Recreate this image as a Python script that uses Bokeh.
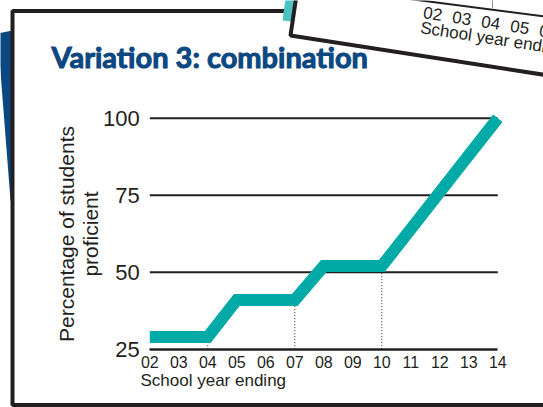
import math
from bokeh.plotting import figure
from bokeh.models import FixedTicker, Label, PolyAnnotation, Range1d
from bokeh.embed import file_html
from bokeh.resources import INLINE

# ---------------- data ----------------
years = [2, 3, 4, 5, 6, 7, 8, 9, 10, 11, 12, 13, 14]
year_labels = ["02", "03", "04", "05", "06", "07", "08", "09", "10", "11", "12", "13", "14"]
proficient = [29, 29, 29, 41, 41, 41, 52, 52, 52, 64, 76, 88, 100]
y_ticks = [25, 50, 75, 100]
step_ends = [4, 7, 10]
title_text = "Variation 3: combination"
x_title = "School year ending"
y_title = "Percentage of students\nproficient"
card_labels = ["02", "03", "04", "05", "06"]

# ---------------- layout ----------------
W, H = 543, 407
PX_X, PX_Y = 29.0, 3.08          # pixels per data unit
ORG_X, ORG_Y = 149.3, 348.7      # pixel position of (2, 25)
X0 = years[0] - ORG_X / PX_X
X1 = X0 + W / PX_X
Y1 = y_ticks[0] + ORG_Y / PX_Y
Y0 = Y1 - H / PX_Y

INK = "#231f20"
TEAL = "#00aaa6"
BLUE = "#0b4780"
FONT = "Liberation Sans"


def dx(px):
    return X0 + px / PX_X


def dy(py):
    return Y1 - py / PX_Y


p = figure(width=W, height=H, x_range=Range1d(X0, X1), y_range=Range1d(Y0, Y1),
           output_backend="svg", toolbar_location=None,
           min_border=0, min_border_left=0, min_border_right=0, min_border_top=0, min_border_bottom=0)
p.outline_line_color = None
p.background_fill_color = "white"
p.border_fill_color = "white"
p.xgrid.visible = False
p.ygrid.visible = False

# ---------------- decorations ----------------
p.add_layout(PolyAnnotation(xs=[dx(-3), dx(12), dx(12), dx(10)], ys=[dy(33), dy(30), dy(200), dy(200)],
                            fill_color=BLUE, fill_alpha=1, line_color=None))
p.add_layout(PolyAnnotation(xs=[dx(12), dx(620), dx(620), dx(12)], ys=[dy(10.5), dy(10.5), dy(404.5), dy(404.5)],
                            fill_alpha=0, line_color=INK, line_width=4, line_alpha=1))
p.add_layout(PolyAnnotation(xs=[dx(285), dx(295), dx(292), dx(282)], ys=[dy(-2), dy(-2), dy(21), dy(20)],
                            fill_color="#4cc3c0", fill_alpha=1, line_color=None))
slope = 0.155
p.add_layout(PolyAnnotation(xs=[dx(290), dx(297), dx(640), dx(640)],
                            ys=[dy(35), dy(-12), dy(-12), dy(35 + slope * 350)],
                            fill_color="white", fill_alpha=1, line_color=INK, line_width=4, line_alpha=1))
p.add_layout(PolyAnnotation(xs=[dx(405), dx(560)], ys=[dy(-2), dy(18)],
                            fill_alpha=0, line_color=INK, line_width=2, line_alpha=1))
p.add_layout(PolyAnnotation(xs=[dx(492), dx(492)], ys=[dy(0), dy(8)],
                            fill_alpha=0, line_color=INK, line_width=1, line_dash="1 1", line_alpha=1))
ang = -math.atan(slope)
for i, lab in enumerate(card_labels):
    p.add_layout(Label(x=dx(423 + 29 * i), y=dy(11.5 + 4.5 * i), text=lab, angle=ang,
                       text_font=FONT, text_font_size="17px", text_color=INK,
                       text_baseline="alphabetic", text_align="left"))
p.add_layout(Label(x=dx(420), y=dy(27), text=x_title, angle=ang,
                   text_font=FONT, text_font_size="17px", text_color=INK,
                   text_baseline="alphabetic", text_align="left"))

# ---------------- chart ----------------
p.segment(x0=[years[0]] * 3, x1=[years[-1]] * 3, y0=y_ticks[1:], y1=y_ticks[1:],
          line_color=INK, line_width=2)
step_vals = [proficient[years.index(s)] for s in step_ends]
p.segment(x0=step_ends, x1=step_ends, y0=[y_ticks[0]] * len(step_ends), y1=step_vals,
          line_color=INK, line_width=1, line_dash="1 2")
p.line(years, proficient, line_color=TEAL, line_width=12, line_join="miter", line_cap="butt")

xa = p.xaxis[0]
xa.fixed_location = y_ticks[0]
xa.ticker = FixedTicker(ticks=years)
xa.major_label_overrides = {y: l for y, l in zip(years, year_labels)}
xa.bounds = (years[0], years[-1])
xa.axis_line_color = INK
xa.axis_line_width = 2.5
xa.major_tick_line_color = None
xa.minor_tick_line_color = None
xa.major_tick_out = 0
xa.major_tick_in = 0
xa.major_label_standoff = 7
xa.major_label_text_font = FONT
xa.major_label_text_font_size = "16px"
xa.major_label_text_color = INK

ya = p.yaxis[0]
ya.fixed_location = years[0]
ya.bounds = (y_ticks[0], y_ticks[-1])
ya.ticker = FixedTicker(ticks=y_ticks)
ya.axis_line_color = None
ya.major_tick_line_color = None
ya.minor_tick_line_color = None
ya.major_tick_out = 0
ya.major_tick_in = 0
ya.major_label_standoff = 10
ya.major_label_text_font = FONT
ya.major_label_text_font_size = "22px"
ya.major_label_text_color = INK
ya.axis_label = y_title
ya.axis_label_text_font = FONT
ya.axis_label_text_font_size = "21px"
ya.axis_label_text_font_style = "normal"
ya.axis_label_text_color = INK
ya.axis_label_text_line_height = 1.05
ya.axis_label_standoff = -2

p.add_layout(Label(x=dx(51), y=dy(55.5), text=title_text, text_font="Lato", text_font_style="bold",
                   text_font_size="29px", text_color=BLUE, text_outline_color=BLUE,
                   text_baseline="alphabetic", text_align="left"))
p.add_layout(Label(x=dx(140), y=dy(380), text=x_title, text_font=FONT, text_font_size="17px",
                   text_color=INK, text_baseline="alphabetic", text_align="left"))

open("out.html", "w").write(file_html(p, INLINE))
